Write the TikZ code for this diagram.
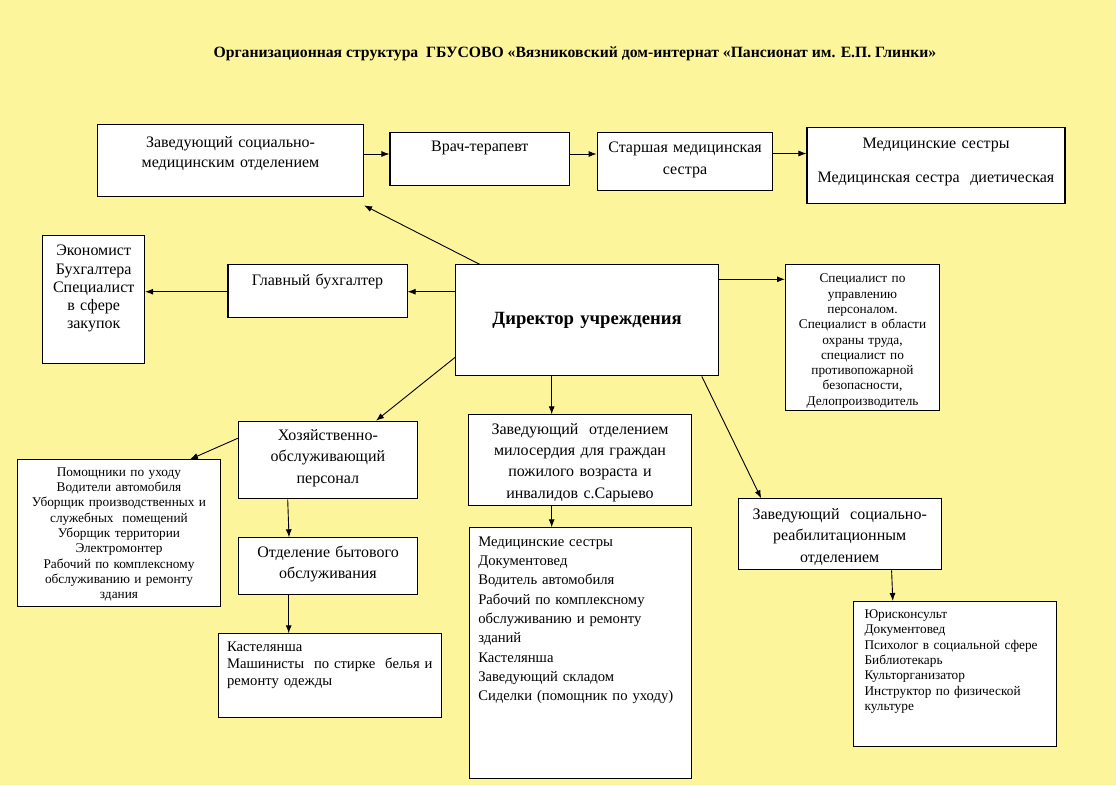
\documentclass[tikz,border=0pt]{standalone}
\usepackage{fontspec}
\setmainfont{Liberation Serif}
\usepackage{tikz}
\usetikzlibrary{arrows.meta}
\definecolor{bgyellow}{RGB}{253,245,155}

\begin{document}
\begin{tikzpicture}[
        x=1pt, y=-1pt,
        >={Latex[length=8pt, width=6pt]},
        node box/.style = {rectangle, draw, fill=white, line width=1.1pt, anchor=north, inner sep=0pt, align=center, font=\fontsize{16}{21.3}\selectfont},
        node list/.style = {node box, anchor=north west, align=left},
        small text/.style = {font=\fontsize{13.3}{15.3}\selectfont},
        edge arrow/.style = {->, line width=0.9pt},
        ]
        \fill[bgyellow] (0,0) rectangle (1116,785);

        \node[font=\bfseries\fontsize{15.7}{18}\selectfont] (Title) at (575,54) {Организационная структура\ \ ГБУСОВО «Вязниковский дом-интернат «Пансионат им. Е.П. Глинки»};

        % Top row
        \node[node box, text width=266pt, text height=23.2pt, text depth=49.1pt, font=\fontsize{16}{20}\selectfont] (SocMed) at (230.5,124) {Заведующий социально-\\медицинским отделением};
        \node[node box, text width=179.6pt, text height=18.9pt, text depth=34.1pt] (Vrach) at (479.8,132.3) {Врач-терапевт};
        \node[node box, text width=175.6pt, text height=19.9pt, text depth=37.8pt] (Starshaya) at (685,132.3) {Старшая медицинская\\сестра};
        \node[node box, text width=258pt, text height=20.5pt, text depth=55.5pt] (MedS) at (936,127.3) {Медицинские сестры\\[13pt]Медицинская сестра\ \ диетическая};

        % Middle row
        \node[node box, text width=101.7pt, text height=20.2pt, text depth=108.1pt, font=\fontsize{16}{18.3}\selectfont] (Ekonomist) at (93.7,235) {Экономист\\Бухгалтера\\Специалист\\в сфере\\закупок};
        \node[node box, text width=179.1pt, text height=20.5pt, text depth=32.8pt] (Glavny) at (317.5,264) {Главный бухгалтер};
        \node[node box, text width=262.8pt, text height=59.2pt, text depth=51.8pt, font=\bfseries\fontsize{18.67}{22}\selectfont] (Director) at (587.1,264.3) {Директор учреждения};
        \node[node box, small text, text width=153.9pt, text height=18pt, text depth=127.7pt] (Specialist) at (862.5,264.3) {Специалист по\\управлению\\персоналом.\\Специалист в области\\охраны труда,\\специалист по\\противопожарной\\безопасности,\\Делопроизводитель};

        % Lower rows
        \node[node box, text width=179.2pt, text height=18.8pt, text depth=58.8pt, font=\fontsize{16}{21.7}\selectfont] (Hoz) at (327.9,420.7) {Хозяйственно-\\обслуживающий\\персонал};
        \node[node box, small text, text width=203.4pt, text height=16.4pt, text depth=130.3pt] (Pomoshniki) at (119,459.3) {Помощники по уходу\\Водители автомобиля\\Уборщик производственных и\\служебных\ \ помещений\\Уборщик территории\\Электромонтер\\Рабочий по комплексному\\обслуживанию и ремонту\\здания};
        \node[node box, text width=179.4pt, text height=19.5pt, text depth=37.5pt, font=\fontsize{16}{21}\selectfont] (Otdelenie) at (328,537.3) {Отделение бытового\\обслуживания};
        \node[node list, inner xsep=8.2pt, text width=206pt, text height=17.4pt, text depth=66.6pt, font=\fontsize{14.67}{17}\selectfont] (Kastelyansha) at (218.3,633.3) {Кастелянша\\Машинисты\ \ по стирке\ \ белья и\\ремонту одежды};
        \node[node box, text width=222.5pt, text height=19.5pt, text depth=71.5pt] (Miloserdiya) at (580,414.3) {Заведующий\ \ отделением\\милосердия для граждан\\пожилого возраста и\\инвалидов с.Сарыево};
        \node[node list, inner xsep=9pt, text width=204.5pt, text height=18.4pt, text depth=232.6pt, font=\fontsize{14.67}{19.3}\selectfont] (MedList) at (468.7,527.3) {Медицинские сестры\\Документовед\\Водитель автомобиля\\Рабочий по комплексному\\обслуживанию и ремонту\\зданий\\Кастелянша\\Заведующий складом\\Сиделки (помощник по уходу)};
        \node[node box, text width=202.7pt, text height=20.5pt, text depth=50.5pt, font=\fontsize{16}{21.5}\selectfont] (SocReab) at (839.7,498.3) {Заведующий\ \ социально-\\реабилитационным\\отделением};
        \node[node list, small text, inner xsep=10.7pt, text width=181.3pt, text height=17pt, text depth=128pt] (Yuris) at (853.3,601) {Юрисконсульт\\Документовед\\Психолог в социальной сфере\\Библиотекарь\\Культорганизатор\\Инструктор по физической\\культуре};

        % Edges along the top row
        \draw[edge arrow] (SocMed.east |- 0,154) -- (Vrach.west |- 0,154);
        \draw[edge arrow] (Vrach.east |- 0,154) -- (Starshaya.west |- 0,154);
        \draw[edge arrow] (Starshaya.east |- 0,153.5) -- (MedS.west |- 0,153.5);

        % Edges from the director
        \draw[edge arrow] (Director.north -| 479.6,0) -- ([yshift=-8pt]SocMed.south east);
        \draw[edge arrow] (Director.west |- 0,291.7) -- (Glavny.east |- 0,291.7);
        \draw[edge arrow] (Director.east |- 0,279.3) -- (Specialist.west |- 0,279.3);
        \draw[edge arrow] (Director.west |- 0,357.3) -- (Hoz.north -| 376,0);
        \draw[edge arrow] (Director.south -| 551.7,0) -- (Miloserdiya.north -| 551.7,0);
        \draw[edge arrow] (Director.south -| 701.8,0) -- (SocReab.north -| 761.2,0);

        % Edges to the lower boxes
        \draw[edge arrow] (Glavny.west |- 0,291.7) -- (Ekonomist.east |- 0,291.7);
        \draw[edge arrow] (Hoz.west |- 0,438.3) -- (Pomoshniki.north -| 190,0);
        \draw[edge arrow] (Hoz.south -| 287.7,0) -- (Otdelenie.north -| 289,0);
        \draw[edge arrow] (Otdelenie.south -| 288.7,0) -- (Kastelyansha.north -| 288.7,0);
        \draw[edge arrow] (Miloserdiya.south -| 551.7,0) -- (MedList.north -| 551.7,0);
        \draw[edge arrow] (SocReab.south -| 891.6,0) -- (Yuris.north -| 892.8,0);
    \end{tikzpicture}
\end{document}
